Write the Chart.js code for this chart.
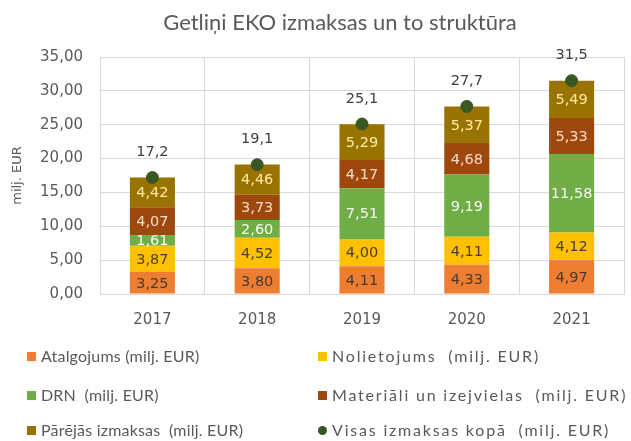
<!DOCTYPE html>
<html><head><meta charset="utf-8">
<script src="https://cdn.jsdelivr.net/npm/chart.js@4/dist/chart.umd.min.js"></script>
<style>
html,body{margin:0;padding:0;background:#fff;overflow:hidden;}
#wrap{position:relative;width:631px;height:441px;}
#legend{position:absolute;left:0;top:0;width:631px;height:441px;font-family:Lato,"Liberation Sans",sans-serif;font-size:16px;color:#595959;}
.li{position:absolute;white-space:pre;display:flex;align-items:center;height:20px;line-height:20px;}
.c1{letter-spacing:0.2px;}
.c2{letter-spacing:1.8px;}
.sw{display:inline-block;width:9px;height:9px;margin-right:5px;}
.dot{border-radius:50%;}
</style></head>
<body><div id="wrap"><canvas id="c" width="631" height="441"></canvas><div id="legend"></div></div>
<script>
const categories = ["2017","2018","2019","2020","2021"];
const atalgojums = [3.25, 3.80, 4.11, 4.33, 4.97];
const nolietojums = [3.87, 4.52, 4.00, 4.11, 4.12];
const drn = [1.61, 2.60, 7.51, 9.19, 11.58];
const materiali = [4.07, 3.73, 4.17, 4.68, 5.33];
const parejas = [4.42, 4.46, 5.29, 5.37, 5.49];
const kopa = [17.2, 19.1, 25.1, 27.7, 31.5];
const seriesNames = ["Atalgojums (milj. EUR)","Nolietojums  (milj. EUR)","DRN  (milj. EUR)","Materiāli un izejvielas  (milj. EUR)","Pārējās izmaksas  (milj. EUR)","Visas izmaksas kopā  (milj. EUR)"];
const chartTitle = 'Getliņi EKO izmaksas un to struktūra';

const FONT = 'Lato, "Liberation Sans", sans-serif';
const NUMFONT = '"DejaVu Sans", sans-serif';
const fmt2 = v => v.toFixed(2).replace('.', ',');
const fmt1 = v => v.toFixed(1).replace('.', ',');

function bar(label, data, color, lblColor){
  return {type:'bar', label, data, backgroundColor:color, stack:'s', barPercentage:0.86, categoryPercentage:0.5, lblColor, order:2};
}
const datasets = [
  bar(seriesNames[0], atalgojums, '#ED7D31', '#4a3a2e'),
  bar(seriesNames[1], nolietojums, '#FFC000', '#4a4030'),
  bar(seriesNames[2], drn, '#70AD47', '#f4f8f0'),
  bar(seriesNames[3], materiali, '#9E480E', '#f6dcc8'),
  bar(seriesNames[4], parejas, '#997300', '#ffeaa0'),
  {type:'line', label:seriesNames[5], data:kopa, showLine:false, pointRadius:6, pointHoverRadius:6,
   pointBackgroundColor:'#385723', pointBorderColor:'#385723', order:1, stack:'t'}
];

const labelPlugin = {
  id:'lbls',
  afterDatasetsDraw(chart){
    const ctx = chart.ctx;
    ctx.save();
    ctx.textAlign='center'; ctx.textBaseline='middle';
    chart.data.datasets.forEach((ds,i)=>{
      const meta = chart.getDatasetMeta(i);
      meta.data.forEach((el,j)=>{
        ctx.font = '14.5px '+NUMFONT;
        if(ds.type==='bar'){
          const p = el.getProps(['x','y','base'],true);
          ctx.fillStyle = ds.lblColor;
          ctx.fillText(fmt2(ds.data[j]), p.x, (p.y+p.base)/2+1);
        } else {
          ctx.fillStyle = '#404040';
          ctx.fillText(fmt1(ds.data[j]), el.x, el.y-25);
        }
      });
    });
    ctx.font = '22px '+FONT;
    ctx.fillStyle = '#595959';
    ctx.fillText(chartTitle, 340, 23);
    ctx.restore();
  }
};

new Chart(document.getElementById('c'), {
  data:{labels:categories, datasets},
  options:{
    responsive:false, animation:false,
    layout:{padding:{left:0,right:4,top:57,bottom:112}},
    plugins:{ legend:{display:false}, tooltip:{enabled:false}, title:{display:false} },
    scales:{
      x:{stacked:true, grid:{color:'#d9d9d9', offset:true, drawTicks:false}, border:{color:'#d9d9d9'},
         ticks:{color:'#595959', padding:17, font:{family:NUMFONT,size:15}},
         afterFit(s){ s.height = 35; }},
      y:{stacked:true, min:0, max:35, grid:{color:'#d9d9d9', drawTicks:false}, border:{display:false},
         ticks:{stepSize:5, color:'#595959', padding:17, font:{family:NUMFONT,size:15}, callback:v=>fmt2(v)},
         title:{display:true, text:'milj. EUR', color:'#595959', font:{family:NUMFONT,size:13}, padding:{top:10,bottom:0}},
         afterFit(s){ s.width = 100; }}
    }
  },
  plugins:[labelPlugin]
});

// HTML legend
const leg = document.getElementById('legend');
const colors = ['#ED7D31','#FFC000','#70AD47','#9E480E','#997300','#385723'];
const pos = [[27,356],[318,356],[27,395],[318,395],[27,430],[318,430]];
seriesNames.forEach((n,i)=>{
  const d = document.createElement('div'); d.className='li ' + (i%2===0?'c1':'c2');
  d.style.left=pos[i][0]+'px'; d.style.top=(pos[i][1]-10)+'px';
  const s = document.createElement('span'); s.className='sw'+(i===5?' dot':''); s.style.background=colors[i];
  d.appendChild(s); d.appendChild(document.createTextNode(n));
  leg.appendChild(d);
});
</script></body></html>
